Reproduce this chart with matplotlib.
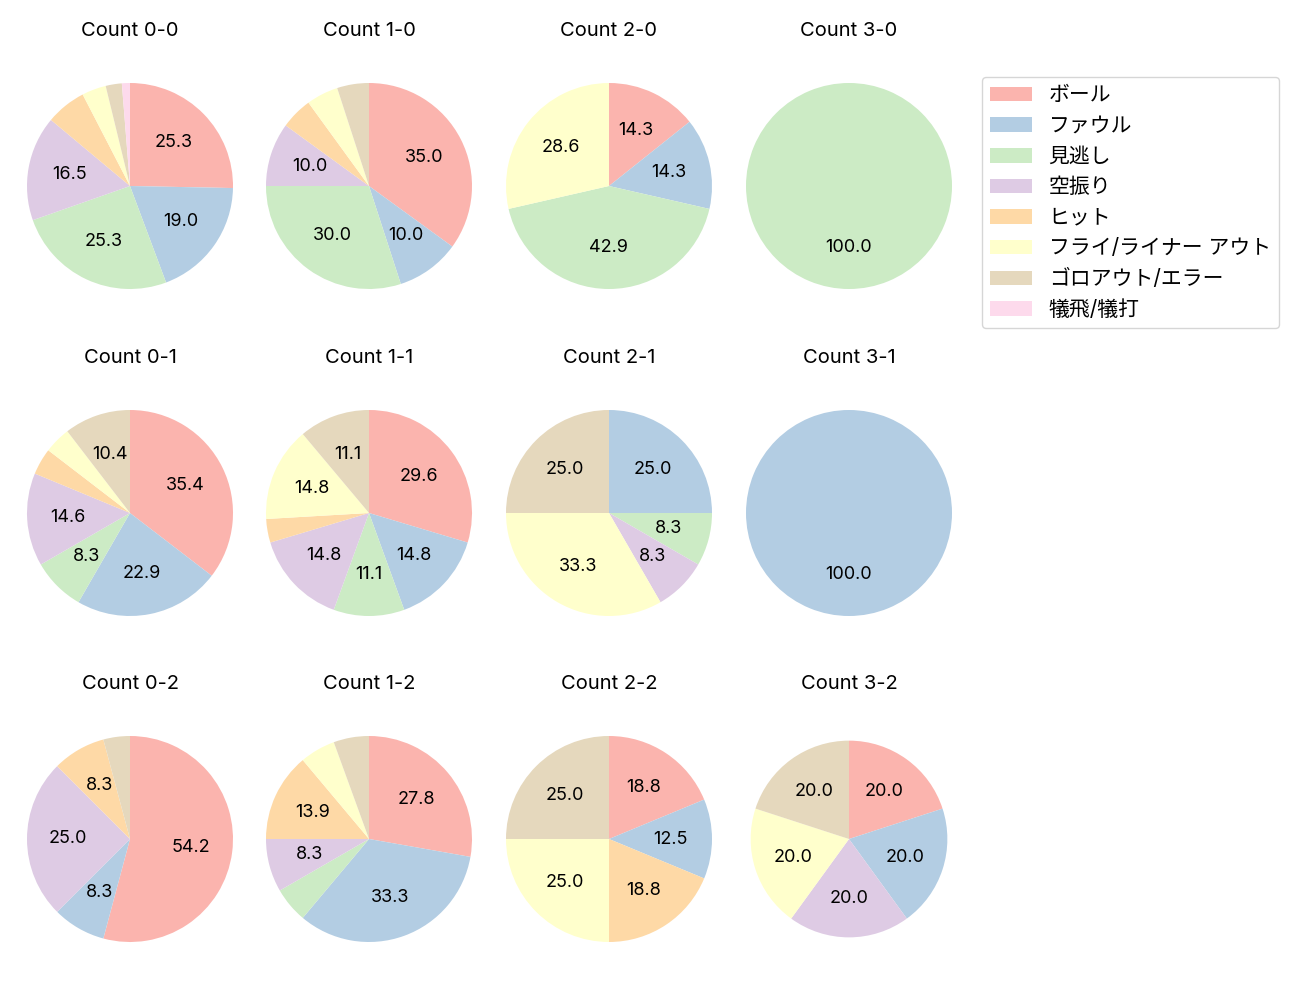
import matplotlib
matplotlib.use("Agg")
import matplotlib.pyplot as plt
from matplotlib.patches import Patch

plt.rcParams['font.family'] = ['Inter', 'Noto Sans CJK JP', 'DejaVu Sans']

categories = ['ボール', 'ファウル', '見逃し', '空振り', 'ヒット',
              'フライ/ライナー アウト', 'ゴロアウト/エラー', '犠飛/犠打']

count_labels = ['Count 0-0', 'Count 1-0', 'Count 2-0', 'Count 3-0',
                'Count 0-1', 'Count 1-1', 'Count 2-1', 'Count 3-1',
                'Count 0-2', 'Count 1-2', 'Count 2-2', 'Count 3-2']

c_0_0 = [20, 15, 20, 13, 5, 3, 2, 1]
c_1_0 = [7, 2, 6, 2, 1, 1, 1, 0]
c_2_0 = [1, 1, 3, 0, 0, 2, 0, 0]
c_3_0 = [0, 0, 1, 0, 0, 0, 0, 0]
c_0_1 = [17, 11, 4, 7, 2, 2, 5, 0]
c_1_1 = [8, 4, 3, 4, 1, 4, 3, 0]
c_2_1 = [0, 3, 1, 1, 0, 4, 3, 0]
c_3_1 = [0, 1, 0, 0, 0, 0, 0, 0]
c_0_2 = [13, 2, 0, 6, 2, 0, 1, 0]
c_1_2 = [10, 12, 2, 3, 5, 2, 2, 0]
c_2_2 = [3, 2, 0, 0, 3, 4, 4, 0]
c_3_2 = [1, 1, 0, 1, 0, 1, 1, 0]

all_counts = [c_0_0, c_1_0, c_2_0, c_3_0,
              c_0_1, c_1_1, c_2_1, c_3_1,
              c_0_2, c_1_2, c_2_2, c_3_2]

colors = plt.cm.Pastel1.colors[:len(categories)]

W, H = 1300, 1000
fig = plt.figure(figsize=(13, 10), dpi=100)

col_cx = [130, 369, 609, 849]
row_cy = [186, 513, 839]
pie_r = 103
side = pie_r * 2.5


def fmt(p):
    return f'{p:.1f}' if p >= 7 else ''


for i, (title, vals) in enumerate(zip(count_labels, all_counts)):
    r, c = divmod(i, 4)
    cx, cy = col_cx[c], row_cy[r]
    ax = fig.add_axes([(cx - side / 2) / W, 1 - (cy + side / 2) / H, side / W, side / H])
    radius = 0.955 if title == 'Count 3-2' else 1.0
    ax.pie(vals, colors=colors, startangle=90, counterclock=False,
           autopct=fmt, pctdistance=0.6, radius=radius,
           textprops={'fontsize': 13})
    ax.set_xlim(-1.25, 1.25)
    ax.set_ylim(-1.25, 1.25)
    ax.set_title(title, fontsize=14.5, pad=15.5)

handles = [Patch(facecolor=col, label=lab) for col, lab in zip(colors, categories)]
fig.legend(handles=handles, loc='upper left', bbox_to_anchor=(982 / W, 1 - 77 / H),
           borderaxespad=0, fontsize=15, labelspacing=0.51)

fig.savefig('out.png', dpi=100)
